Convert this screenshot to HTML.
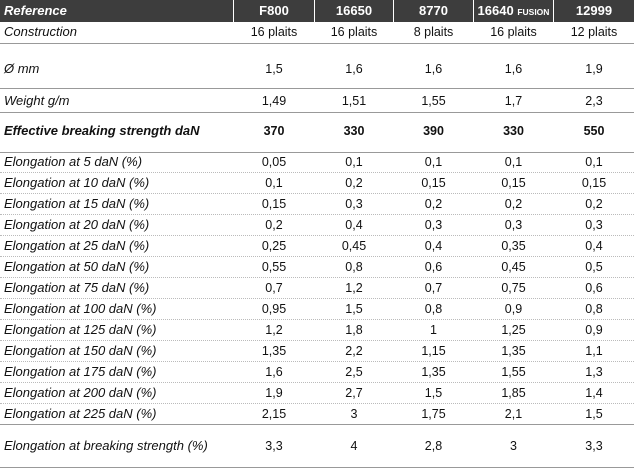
<!DOCTYPE html>
<html><head><meta charset="utf-8"><style>
body{margin:0;width:634px;height:469px;background:#fff;overflow:hidden;font-family:"Liberation Sans",sans-serif;color:#111;}
#t{position:relative;width:634px;height:469px;}
.c{position:absolute;font-size:12.5px;white-space:nowrap;line-height:14px;}
.lab{font-size:13px;}
.h{position:absolute;top:0;height:22px;background:#3d3d3d;color:#fff;font-weight:bold;font-size:13px;line-height:22px;text-align:center;}
.ln{position:absolute;left:0;width:634px;height:0;border-top:1.5px solid #999;}
.dl{position:absolute;left:0;width:634px;height:0;border-top:1px dotted #bbb;}
</style></head><body>
<div id="t"></div>
<script>
const colLefts=[0,234,315,394,474,554];
const colRights=[233,314,393,473,553,634];
const headers=["Reference","F800","16650","8770","16640 FUSION","12999"];
const rowLabels=["Construction","Ø mm","Weight g/m","Effective breaking strength daN",
"Elongation at 5 daN (%)","Elongation at 10 daN (%)","Elongation at 15 daN (%)","Elongation at 20 daN (%)","Elongation at 25 daN (%)","Elongation at 50 daN (%)","Elongation at 75 daN (%)","Elongation at 100 daN (%)","Elongation at 125 daN (%)","Elongation at 150 daN (%)","Elongation at 175 daN (%)","Elongation at 200 daN (%)","Elongation at 225 daN (%)","Elongation at breaking strength (%)"];
const rowValues=[
["16 plaits","16 plaits","8 plaits","16 plaits","12 plaits"],
["1,5","1,6","1,6","1,6","1,9"],
["1,49","1,51","1,55","1,7","2,3"],
["370","330","390","330","550"],
["0,05","0,1","0,1","0,1","0,1"],
["0,1","0,2","0,15","0,15","0,15"],
["0,15","0,3","0,2","0,2","0,2"],
["0,2","0,4","0,3","0,3","0,3"],
["0,25","0,45","0,4","0,35","0,4"],
["0,55","0,8","0,6","0,45","0,5"],
["0,7","1,2","0,7","0,75","0,6"],
["0,95","1,5","0,8","0,9","0,8"],
["1,2","1,8","1","1,25","0,9"],
["1,35","2,2","1,15","1,35","1,1"],
["1,6","2,5","1,35","1,55","1,3"],
["1,9","2,7","1,5","1,85","1,4"],
["2,15","3","1,75","2,1","1,5"],
["3,3","4","2,8","3","3,3"]];
const rowTextY=[32,69,101,131,162,183,204,225,246,267,288,309,330,351,372,393,414,446];
const solidLines=[43,88,112,152,424,467];
const t=document.getElementById('t');
headers.forEach((h,i)=>{
  const d=document.createElement('div');
  d.className='h';
  d.style.left=colLefts[i]+'px';
  d.style.width=(colRights[i]-colLefts[i])+'px';
  if(i===0){d.style.textAlign='left';d.style.paddingLeft='4px';d.style.width=(colRights[i]-colLefts[i]-4)+'px';d.style.fontStyle='italic';}
  if(h.indexOf('FUSION')>=0){d.innerHTML='16640 <span style="font-size:8.5px">FUSION</span>';}else d.textContent=h;
  
  
  t.appendChild(d);
});
solidLines.forEach(y=>{
  const l=document.createElement('div');l.className='ln';l.style.top=y+'px';
  
  
  t.appendChild(l);
});
for(let r=5;r<=16;r++){
  const l=document.createElement('div');l.className='dl';l.style.top=(rowTextY[r]-11)+'px';
  
  
  t.appendChild(l);
}
rowLabels.forEach((lab,r)=>{
  const bold=(r===3);
  const a=document.createElement('div');a.className='c lab';
  a.style.left='4px';a.style.top=(rowTextY[r]-7)+'px';a.style.fontStyle='italic';
  if(bold)a.style.fontWeight='bold';
  a.textContent=lab;
  
  
  t.appendChild(a);
  rowValues[r].forEach((v,c)=>{
    const d=document.createElement('div');d.className='c';
    d.style.left=colLefts[c+1]+'px';d.style.width=(colRights[c+1]-colLefts[c+1])+'px';
    d.style.textAlign='center';d.style.top=(rowTextY[r]-7)+'px';
    if(bold)d.style.fontWeight='bold';
    d.textContent=v;
    
    
    t.appendChild(d);
  });
});
</script>
</body></html>
